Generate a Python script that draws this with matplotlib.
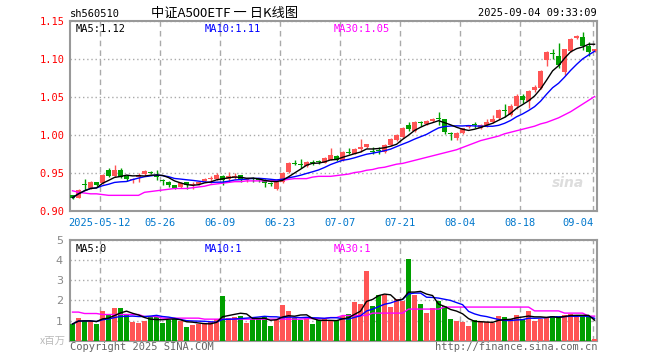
import numpy as np
import pandas as pd
import matplotlib
matplotlib.use("Agg")
import matplotlib.pyplot as plt

# daily candles, 2025-04-30 .. 2025-09-04
opens = [0.921, 0.918, 0.936, 0.931, 0.938, 0.937, 0.955, 0.946, 0.954, 0.946,
         0.941, 0.945, 0.949, 0.952, 0.948, 0.941, 0.939, 0.934, 0.932, 0.938,
         0.934, 0.936, 0.940, 0.942, 0.942, 0.946, 0.942, 0.945, 0.948, 0.941,
         0.944, 0.942, 0.941, 0.937, 0.930, 0.938, 0.952, 0.963, 0.962, 0.959,
         0.965, 0.966, 0.964, 0.968, 0.973, 0.967, 0.978, 0.976, 0.982, 0.984,
         0.979, 0.981, 0.978, 0.987, 0.994, 0.998, 1.0135, 1.006, 1.017, 1.015,
         1.019, 1.022, 1.021, 1.003, 0.997, 1.003, 1.011, 1.014, 1.009, 1.013,
         1.018, 1.023, 1.033, 1.027, 1.038, 1.052, 1.045, 1.060, 1.062, 1.099,
         1.108, 1.104, 1.083, 1.111, 1.128, 1.130, 1.118, 1.111]
highs = [0.922, 0.929, 0.943, 0.940, 0.939, 0.949, 0.957, 0.961, 0.957, 0.948,
         0.944, 0.950, 0.954, 0.953, 0.954, 0.943, 0.940, 0.935, 0.938, 0.939,
         0.939, 0.939, 0.944, 0.946, 0.950, 0.948, 0.952, 0.950, 0.948, 0.944,
         0.945, 0.943, 0.943, 0.939, 0.939, 0.952, 0.965, 0.967, 0.969, 0.966,
         0.968, 0.967, 0.972, 0.983, 0.974, 0.980, 0.983, 0.983, 0.995, 0.989,
         0.984, 0.984, 0.988, 0.996, 1.002, 1.011, 1.017, 1.019, 1.019, 1.020,
         1.023, 1.031, 1.022, 1.005, 1.005, 1.010, 1.014, 1.018, 1.015, 1.021,
         1.027, 1.034, 1.041, 1.041, 1.055, 1.055, 1.059, 1.066, 1.086, 1.111,
         1.113, 1.121, 1.114, 1.128, 1.132, 1.136, 1.123, 1.114]
lows = [0.916, 0.917, 0.928, 0.930, 0.933, 0.936, 0.945, 0.945, 0.944, 0.940,
        0.937, 0.939, 0.947, 0.949, 0.941, 0.934, 0.932, 0.930, 0.931, 0.930,
        0.930, 0.934, 0.939, 0.937, 0.941, 0.934, 0.939, 0.943, 0.938, 0.939,
        0.939, 0.938, 0.932, 0.933, 0.928, 0.937, 0.950, 0.961, 0.957, 0.958,
        0.961, 0.962, 0.963, 0.967, 0.966, 0.966, 0.975, 0.975, 0.978, 0.983,
        0.975, 0.975, 0.977, 0.986, 0.993, 0.996, 1.006, 1.005, 1.012, 1.014,
        1.018, 1.013, 1.002, 0.994, 0.994, 1.002, 1.010, 1.009, 1.008, 1.011,
        1.016, 1.022, 1.024, 1.025, 1.035, 1.042, 1.036, 1.057, 1.061, 1.091,
        1.101, 1.089, 1.080, 1.110, 1.127, 1.112, 1.104, 1.110]
closes = [0.918, 0.928, 0.935, 0.939, 0.934, 0.948, 0.947, 0.955, 0.945, 0.943,
          0.943, 0.948, 0.953, 0.950, 0.945, 0.940, 0.934, 0.931, 0.937, 0.934,
          0.935, 0.938, 0.943, 0.943, 0.948, 0.941, 0.946, 0.947, 0.942, 0.9415,
          0.942, 0.941, 0.937, 0.936, 0.939, 0.951, 0.964, 0.962, 0.961, 0.965,
          0.964, 0.965, 0.970, 0.974, 0.968, 0.978, 0.977, 0.982, 0.985, 0.988,
          0.978, 0.980, 0.987, 0.995, 1.001, 1.010, 1.008, 1.018, 1.016, 1.019,
          1.022, 1.021, 1.005, 1.002, 1.003, 1.009, 1.013, 1.013, 1.013, 1.018,
          1.022, 1.033, 1.032, 1.039, 1.052, 1.046, 1.058, 1.064, 1.085, 1.110,
          1.107, 1.092, 1.113, 1.127, 1.131, 1.118, 1.110, 1.113]
# 30-day average as drawn (needs history before the window)
ma30 = [0.927, 0.925, 0.924, 0.923, 0.923, 0.922, 0.921, 0.921, 0.921, 0.921,
        0.921, 0.921, 0.925, 0.926, 0.927, 0.928, 0.929, 0.930, 0.930, 0.930,
        0.931, 0.932, 0.933, 0.935, 0.936, 0.937, 0.938, 0.939, 0.939, 0.940,
        0.940, 0.940, 0.940, 0.940, 0.941, 0.941, 0.942, 0.943, 0.943, 0.943,
        0.945, 0.946, 0.946, 0.946, 0.947, 0.948, 0.949, 0.951, 0.952, 0.954,
        0.955, 0.957, 0.958, 0.960, 0.962, 0.963, 0.965, 0.967, 0.969, 0.971,
        0.973, 0.975, 0.977, 0.979, 0.981, 0.984, 0.987, 0.990, 0.993, 0.995,
        0.997, 0.999, 1.002, 1.004, 1.006, 1.008, 1.010, 1.012, 1.015, 1.017,
        1.020, 1.023, 1.027, 1.031, 1.036, 1.041, 1.046, 1.051]
# volume, millions
volume = [0.83, 1.12, 1.00, 0.98, 0.83, 1.48, 1.32, 1.63, 1.63, 1.28,
          0.95, 0.90, 1.00, 1.20, 1.20, 0.90, 1.03, 1.07, 1.00, 0.70,
          0.80, 0.83, 0.90, 0.95, 1.07, 2.20, 1.12, 1.20, 1.23, 0.90,
          1.07, 1.12, 1.25, 0.73, 1.03, 1.75, 1.45, 1.12, 1.03, 1.08,
          0.83, 1.03, 1.07, 1.03, 1.03, 1.25, 1.33, 1.90, 1.83, 3.45,
          1.73, 2.28, 2.28, 1.65, 2.08, 1.98, 4.08, 2.28, 1.83, 1.40,
          1.62, 1.95, 1.70, 1.08, 1.00, 0.95, 0.75, 1.03, 0.98, 0.92,
          0.87, 1.25, 1.20, 1.08, 1.28, 1.08, 1.48, 1.00, 1.08, 1.15,
          1.25, 1.25, 1.28, 1.32, 1.20, 1.25, 1.25, 0.08]
vol_ma30 = [1.42, 1.42, 1.35, 1.35, 1.35, 1.30, 1.30, 1.30, 1.30, 1.30,
            1.30, 1.30, 1.20, 1.20, 1.20, 1.12, 1.12, 1.12, 1.12, 1.12,
            1.12, 1.12, 1.07, 1.07, 1.07, 1.07, 1.07, 1.07, 1.07, 1.07,
            1.07, 1.07, 1.07, 1.07, 1.07, 1.07, 1.07, 1.07, 1.07, 1.10,
            1.10, 1.10, 1.10, 1.15, 1.15, 1.25, 1.25, 1.25, 1.25, 1.25,
            1.37, 1.37, 1.37, 1.37, 1.37, 1.37, 1.57, 1.57, 1.57, 1.57,
            1.57, 1.57, 1.67, 1.67, 1.67, 1.67, 1.67, 1.67, 1.67, 1.67,
            1.67, 1.67, 1.67, 1.67, 1.67, 1.67, 1.67, 1.48, 1.48, 1.48,
            1.48, 1.48, 1.37, 1.37, 1.37, 1.37, 1.22, 1.22]

tick_idx = [4.5, 14.5, 24.5, 34.5, 44.5, 54.5, 64.5, 74.5, 86.8]
tick_lbl = ["2025-05-12", "05-26", "06-09", "06-23", "07-07",
            "07-21", "08-04", "08-18", "09-04"]
price_ticks = [0.90, 0.95, 1.00, 1.05, 1.10, 1.15]
vol_ticks = [1, 2, 3, 4, 5]

RED = "#ff5555"
GREEN = "#009f00"
GRIDC = "#aaaaaa"
MONO = "DejaVu Sans Mono"

W, H = 660, 360
fig = plt.figure(figsize=(6.6, 3.6), dpi=100)


def box(x0, y0, x1, y1):
    return [x0 / W, 1 - y1 / H, (x1 - x0) / W, (y1 - y0) / H]


ax = fig.add_axes(box(70, 21.3, 597, 211.3))
vax = fig.add_axes(box(70, 240, 597, 340.7))

o = np.array(opens)
c = np.array(closes)
x = np.arange(len(c))
cols = np.where(c >= o, RED, GREEN)

for a in (ax, vax):
    a.set_xlim(-0.42, 87.4)
    for s in a.spines.values():
        s.set_color("#999999")
        s.set_linewidth(1.5)
    a.set_xticks(tick_idx)
    a.tick_params(length=0)
    a.grid(axis="x", color=GRIDC, linestyle=(0, (4, 3)), lw=1)
    a.grid(axis="y", color=GRIDC, linestyle=(0, (1, 2)), lw=1)
    a.set_axisbelow(True)

# price panel
ax.set_ylim(0.90, 1.15)
ax.set_yticks(price_ticks)
ax.set_yticklabels(["%.2f" % v for v in price_ticks], color="red",
                   family=MONO, fontsize=7.5)
ax.tick_params(axis="y", pad=4)
ax.set_xticklabels(tick_lbl, color="#0077cc", family=MONO, fontsize=7.5)
ax.tick_params(axis="x", pad=5)
ax.get_xticklabels()[-1].set_horizontalalignment("right")

ax.vlines(x, lows, highs, colors=cols, lw=1, zorder=3)
body = np.maximum(np.abs(c - o), 0.0013)
ax.bar(x, body, 0.8, bottom=np.minimum(o, c), color=cols, lw=0, zorder=4)

ma5 = pd.Series(closes).rolling(5, min_periods=1).mean()
ma10 = pd.Series(closes).rolling(10, min_periods=1).mean()
ax.plot(x, ma30, color="#ff00ff", lw=1, zorder=5)
ax.plot(x, ma10, color="#0000ff", lw=1, zorder=5)
ax.plot(x, ma5, color="black", lw=1, zorder=5)

ax.text(0.01, 0.985, "MA5:1.12", transform=ax.transAxes, family=MONO,
        fontsize=7.5, va="top", color="black")
ax.text(0.255, 0.985, "MA10:1.11", transform=ax.transAxes, family=MONO,
        fontsize=7.5, va="top", color="#0000ff")
ax.text(0.50, 0.985, "MA30:1.05", transform=ax.transAxes, family=MONO,
        fontsize=7.5, va="top", color="#ff00ff")
ax.text(0.945, 0.13, "sina", transform=ax.transAxes, fontsize=10,
        style="italic", weight="bold", color="#dddddd", ha="center")

# volume panel
vax.set_ylim(0, 5)
vax.set_yticks(vol_ticks)
vax.set_yticklabels([str(v) for v in vol_ticks], color="#888888", fontsize=8)
vax.tick_params(axis="y", pad=5)
vax.set_xticklabels([])
vax.bar(x, volume, 0.83, color=cols, lw=0, zorder=3)
vma5 = pd.Series(volume).rolling(5, min_periods=1).mean()
vma10 = pd.Series(volume).rolling(10, min_periods=1).mean()
vax.plot(x, vol_ma30, color="#ff00ff", lw=1, zorder=5)
vax.plot(x, vma10, color="#0000ff", lw=1, zorder=5)
vax.plot(x, vma5, color="black", lw=1, zorder=5)

vax.text(0.01, 0.96, "MA5:0", transform=vax.transAxes, family=MONO,
         fontsize=7.5, va="top", color="black")
vax.text(0.255, 0.96, "MA10:1", transform=vax.transAxes, family=MONO,
         fontsize=7.5, va="top", color="#0000ff")
vax.text(0.50, 0.96, "MA30:1", transform=vax.transAxes, family=MONO,
         fontsize=7.5, va="top", color="#ff00ff")

# header / footer texts
fig.text(70 / W, 1 - 14 / H, "sh560510", family=MONO, fontsize=7.5,
         va="center")
fig.text(225 / W, 1 - 13 / H, "中证A500ETF 一 日K线图",
         family=["Noto Sans CJK SC", "DejaVu Sans"], fontsize=9.5,
         ha="center", va="center")
fig.text(597 / W, 1 - 13 / H, "2025-09-04 09:33:09", family=MONO,
         fontsize=7.5, ha="right", va="center")
fig.text(66 / W, 1 - 341 / H, "x百万", family=["Noto Sans CJK SC", "DejaVu Sans"],
         fontsize=7.5, color="#bbbbbb", ha="right", va="center")
fig.text(70 / W, 1 - 347 / H, "Copyright 2025 SINA.COM", family=MONO,
         fontsize=7.5, color="#666666", va="center")
fig.text(597 / W, 1 - 347 / H, "http://finance.sina.com.cn", family=MONO,
         fontsize=7.5, color="#666666", ha="right", va="center")

fig.savefig("out.png", dpi=100, facecolor="white")
